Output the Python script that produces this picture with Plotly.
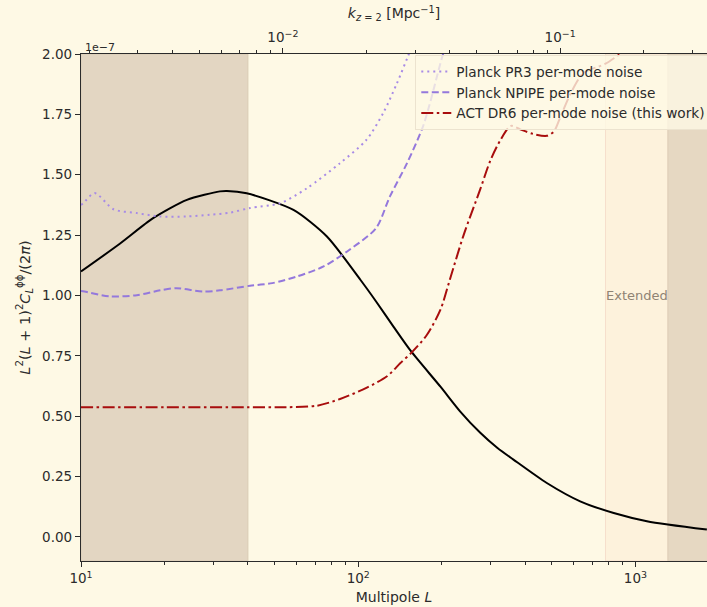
import plotly.graph_objects as go
import numpy as np

# ---- data (values in units of 1e-7) ----
L_theory = [10, 13.8, 18.2, 24.1, 31.7, 33.6, 39.6, 58.4, 77.1, 101.8, 116, 134, 155, 198, 233, 275, 318, 363, 479, 632, 835, 1100, 1810]
C_theory = [1.099, 1.214, 1.320, 1.396, 1.431, 1.433, 1.423, 1.354, 1.244, 1.065, 0.975, 0.871, 0.769, 0.622, 0.520, 0.432, 0.368, 0.320, 0.223, 0.147, 0.099, 0.065, 0.030]

L_pr3 = [10.0, 10.2, 11.2, 13.1, 15.9, 19.3, 24.1, 29.2, 34.5, 40.7, 52.3, 65.3, 86, 107, 123, 138, 151, 165]
N_pr3 = [1.375, 1.382, 1.424, 1.357, 1.341, 1.327, 1.327, 1.334, 1.343, 1.362, 1.382, 1.444, 1.548, 1.644, 1.755, 1.879, 1.989, 2.10]

L_npipe = [10.0, 10.3, 12.7, 15.9, 19.3, 22.1, 27.6, 31.7, 40.7, 49, 60, 75, 93, 116, 130, 150, 172, 200, 215]
N_npipe = [1.018, 1.016, 0.996, 1.001, 1.021, 1.030, 1.016, 1.021, 1.040, 1.051, 1.078, 1.120, 1.189, 1.279, 1.409, 1.548, 1.706, 1.98, 2.10]

L_act = [10, 20, 40, 55, 70.9, 86, 107, 127, 142, 156, 177, 198, 214, 240, 275, 300, 326, 355, 384, 427, 479, 508, 537, 584, 648, 780, 930]
N_act = [0.537, 0.537, 0.537, 0.537, 0.543, 0.571, 0.617, 0.665, 0.720, 0.764, 0.837, 0.941, 1.065, 1.25, 1.437, 1.56, 1.644, 1.702, 1.688, 1.669, 1.661, 1.679, 1.741, 1.837, 1.920, 1.96, 2.02]

CHI_Z2 = 5350.0  # Mpc, L -> k conversion for top axis

x_ticks = [10, 100, 1000]
x_ticktext = ["10<sup>1</sup>", "10<sup>2</sup>", "10<sup>3</sup>"]
k_ticks = [0.01, 0.1]
k_ticktext = ["10<sup>\u22122</sup>", "10<sup>\u22121</sup>"]
y_ticks = [0.0, 0.25, 0.5, 0.75, 1.0, 1.25, 1.5, 1.75, 2.0]

L_cut_low = 40
L_ext_low = 780
L_ext_high = 1310
L_max_view = 1812

# ---- figure ----
BG = "#fef9e5"
AX = "#2b2b2b"
FONT = "DejaVu Sans"

fig = go.Figure()

fig.add_trace(go.Scatter(x=L_theory, y=C_theory, mode="lines",
                         line=dict(color="black", width=2, shape="spline", smoothing=0.7),
                         showlegend=False, hoverinfo="skip"))
fig.add_trace(go.Scatter(x=L_pr3, y=N_pr3, mode="lines", name="Planck PR3 per-mode noise",
                         line=dict(color="#a88be6", width=2, dash="2px,4px", shape="spline", smoothing=0.8)))
fig.add_trace(go.Scatter(x=L_npipe, y=N_npipe, mode="lines", name="Planck NPIPE per-mode noise",
                         line=dict(color="#9478dc", width=2, dash="7px,3.5px", shape="spline", smoothing=0.8)))
fig.add_trace(go.Scatter(x=L_act, y=N_act, mode="lines", name="ACT DR6 per-mode noise (this work)",
                         line=dict(color="#a80d0d", width=2, dash="12px,3.5px,2.5px,3.5px", shape="spline", smoothing=0.8)))

# invisible trace for the top k axis
k_vals = [L_theory[0] / CHI_Z2, L_max_view / CHI_Z2]
fig.add_trace(go.Scatter(x=k_vals, y=[None, None], xaxis="x2", yaxis="y", mode="lines",
                         showlegend=False, hoverinfo="skip"))

# shaded regions
fig.add_shape(type="rect", xref="x", yref="paper", x0=L_theory[0], x1=L_cut_low, y0=0, y1=1,
              fillcolor="#e3d6c2", line=dict(width=1, color="#d9cbb4"), layer="below")
fig.add_shape(type="rect", xref="x", yref="paper", x0=L_ext_low, x1=L_ext_high, y0=0, y1=1,
              fillcolor="#fdf2dc", line=dict(width=1, color="#f6dfcc"), layer="below")
fig.add_shape(type="rect", xref="x", yref="paper", x0=L_ext_high, x1=L_max_view * 1.2, y0=0, y1=1,
              fillcolor="#e6d8c2", line=dict(width=1, color="#dccdb6"), layer="below")

fig.add_annotation(x=np.log10(np.sqrt(L_ext_low * L_ext_high)), y=1.0, xref="x", yref="y",
                   text="Extended", showarrow=False, font=dict(family=FONT, size=13, color="#8f8374"))
fig.add_annotation(x=0, y=1.0, xref="paper", yref="paper", xanchor="left", yanchor="bottom",
                   text="1e\u22127", showarrow=False, font=dict(family=FONT, size=11, color=AX), xshift=2, yshift=-2)

minor_L = [v * d for d in (10, 100, 1000) for v in range(2, 10) if v * d <= L_max_view]
minor_k = [v * d for d in (0.001, 0.01, 0.1) for v in range(2, 10) if L_theory[0] / CHI_Z2 <= v * d <= L_max_view / CHI_Z2]

fig.update_layout(
    width=707, height=607,
    margin=dict(l=81, r=0, t=54, b=46, autoexpand=False),
    paper_bgcolor=BG, plot_bgcolor=BG,
    font=dict(family=FONT, size=13.5, color=AX),
    xaxis=dict(type="log", range=[1, np.log10(L_max_view)], tickmode="array", tickvals=x_ticks, ticktext=x_ticktext,
               ticks="outside", ticklen=5, tickwidth=1.2, tickcolor=AX, showline=True, linecolor=AX, linewidth=1.3,
               showgrid=False, zeroline=False, tickfont=dict(size=13.5),
               minor=dict(tickmode="array", tickvals=minor_L, ticks="outside", ticklen=3, tickcolor=AX, showgrid=False),
               title=dict(text="Multipole <i>L</i>", font=dict(size=14), standoff=6)),
    xaxis2=dict(type="log", overlaying="x", side="top",
                range=[1 - np.log10(CHI_Z2), np.log10(L_max_view) - np.log10(CHI_Z2)],
                tickmode="array", tickvals=k_ticks, ticktext=k_ticktext,
                ticks="outside", ticklen=5, tickwidth=1.2, tickcolor=AX, showline=True, linecolor=AX, linewidth=1.3,
                showgrid=False, zeroline=False, tickfont=dict(size=13.5),
                minor=dict(tickmode="array", tickvals=minor_k, ticks="outside", ticklen=3, tickcolor=AX, showgrid=False),
                title=dict(text="<i>k</i><sub><i>z</i> = 2</sub> [Mpc<sup>\u22121</sup>]", font=dict(size=14), standoff=5)),
    yaxis=dict(range=[-0.1, 2.0], tickmode="array", tickvals=y_ticks, tickformat=".2f",
               ticks="outside", ticklen=5, tickwidth=1.2, tickcolor=AX, showline=True, linecolor=AX, linewidth=1.3,
               showgrid=False, zeroline=False, tickfont=dict(size=13.5),
               title=dict(text="<i>L</i><sup>2</sup>(<i>L</i> + 1)<sup>2</sup><i>C</i><sub><i>L</i></sub><sup>\u03d5\u03d5</sup>/(2<i>\u03c0</i>)",
                          font=dict(size=14.5), standoff=8)),
    legend=dict(x=0.534, y=0.998, xanchor="left", yanchor="top", bgcolor="rgba(254,249,229,0.8)",
                bordercolor="#ece3cf", borderwidth=1, font=dict(family=FONT, size=13.7, color=AX),
                tracegroupgap=0, itemwidth=30),
    showlegend=True,
)

page_fix = (
    "document.body.style.margin='0';"
    "document.body.style.background='" + BG + "';"
    "document.documentElement.style.overflow='hidden';"
)

fig.write_html("out.html", post_script=page_fix, config={"displayModeBar": False})
